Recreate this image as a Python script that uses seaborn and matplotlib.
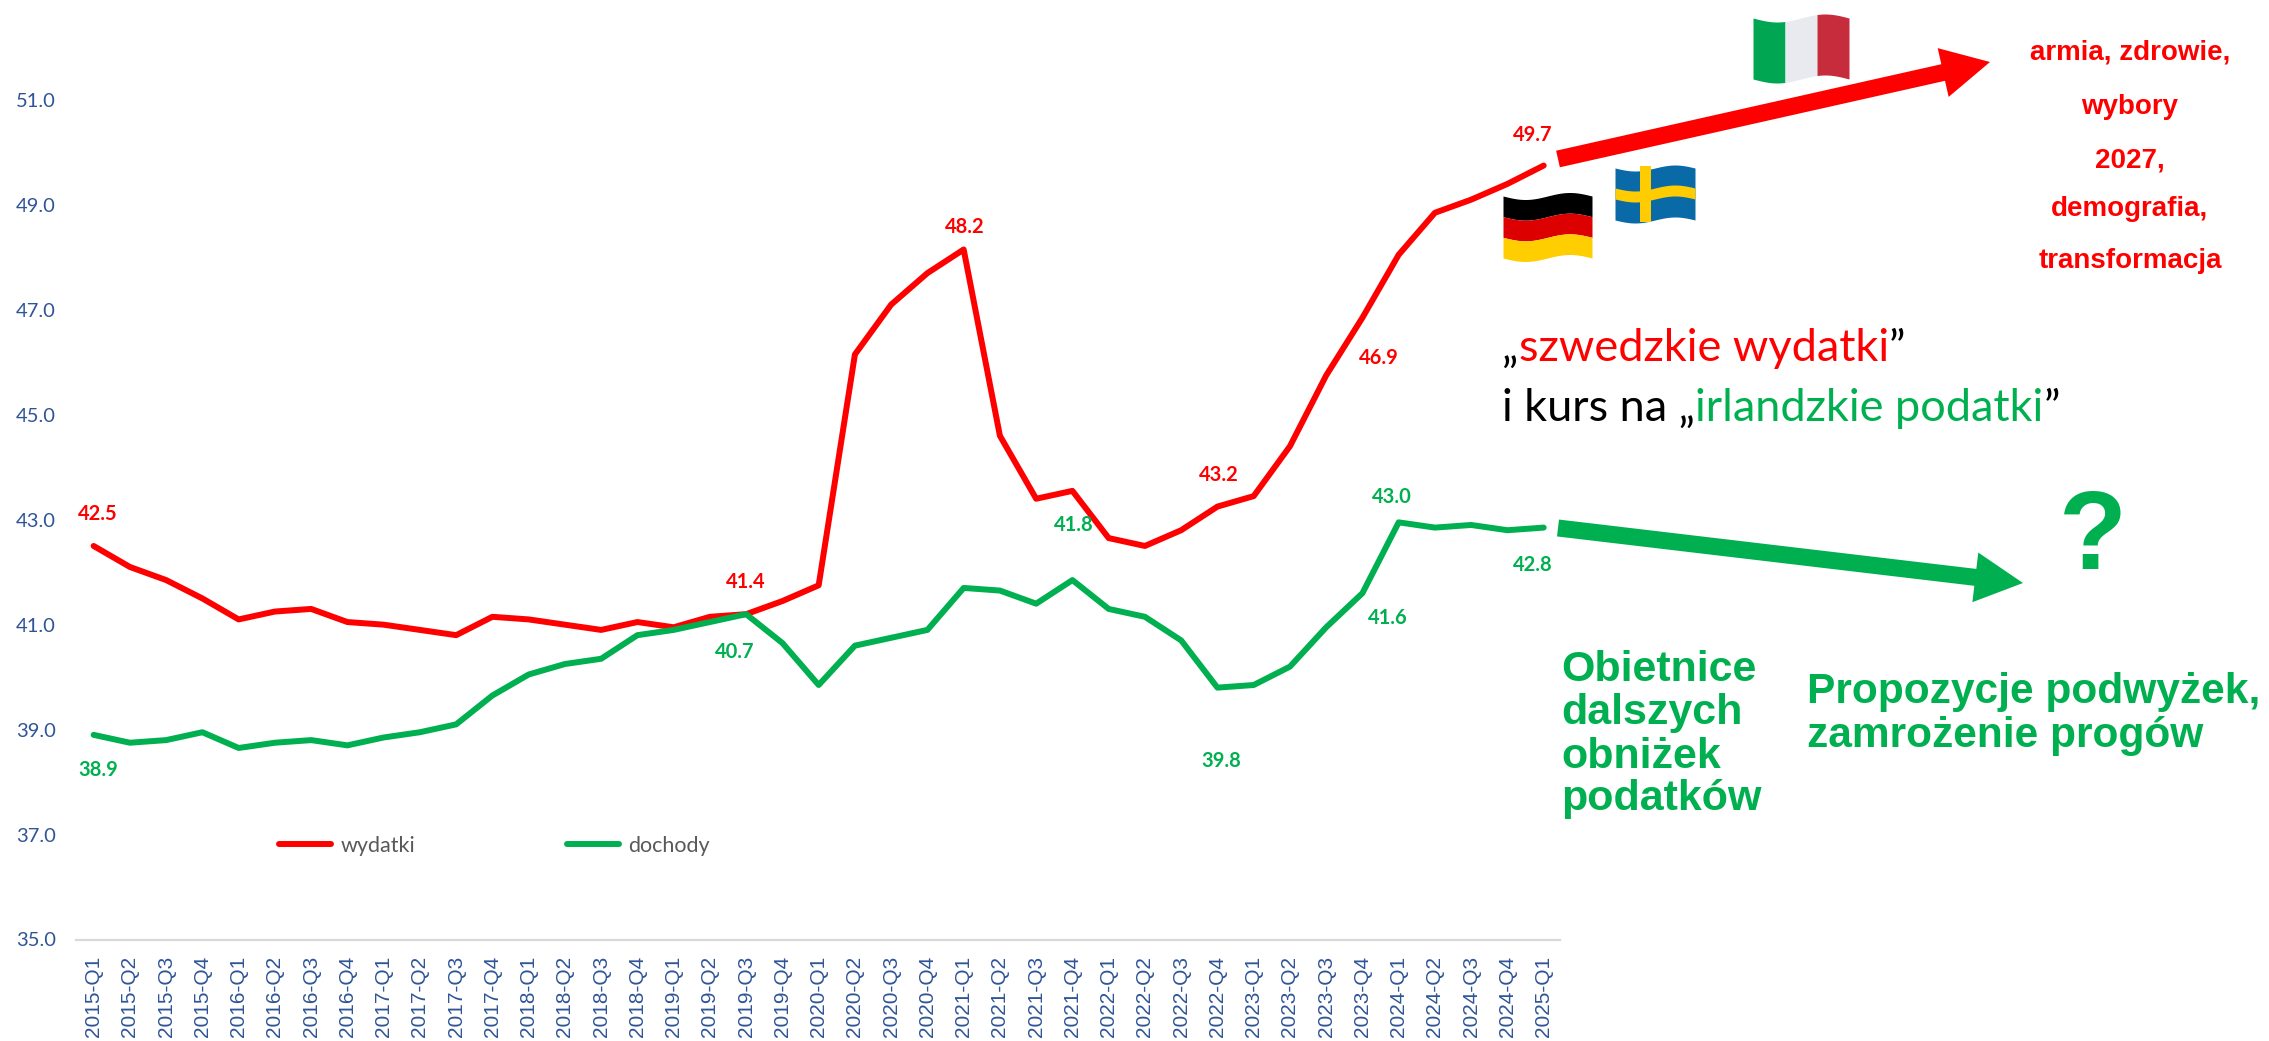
import numpy as np
import pandas as pd
import matplotlib
matplotlib.use("Agg")
import matplotlib.pyplot as plt
import seaborn as sns

# ---- data ----
QUARTERS = [f"{y}-Q{q}" for y in range(2015, 2025) for q in range(1, 5)] + ["2025-Q1"]

WYDATKI = [42.5, 42.1, 41.85, 41.5, 41.1, 41.25, 41.3, 41.05, 41.0, 40.9, 40.8, 41.15,
           41.1, 41.0, 40.9, 41.05, 40.95, 41.15, 41.2, 41.45, 41.75, 46.15, 47.1, 47.7,
           48.15, 44.6, 43.4, 43.55, 42.65, 42.5, 42.8, 43.25, 43.45, 44.4, 45.75, 46.85,
           48.05, 48.85, 49.1, 49.4, 49.75]
DOCHODY = [38.9, 38.75, 38.8, 38.95, 38.65, 38.75, 38.8, 38.7, 38.85, 38.95, 39.1, 39.65,
           40.05, 40.25, 40.35, 40.8, 40.9, 41.05, 41.2, 40.65, 39.85, 40.6, 40.75, 40.9,
           41.7, 41.65, 41.4, 41.85, 41.3, 41.15, 40.7, 39.8, 39.85, 40.2, 40.95, 41.6,
           42.95, 42.85, 42.9, 42.8, 42.85]

Y_TICKS = [35, 37, 39, 41, 43, 45, 47, 49, 51]

RED = "#FF0000"
GREEN = "#00B050"
BLUE = "#2F5597"

# quarter index, label, offset in points
RED_LABELS = [(0, "42.5", 3, 23), (18, "41.4", 0, 23), (24, "48.2", 1, 16),
              (31, "43.2", 1, 23), (35, "46.9", 12, -29), (40, "49.7", -8, 22)]
GREEN_LABELS = [(0, "38.9", 3, -25), (18, "40.7", -8, -27), (27, "41.8", 1, 40),
                (31, "39.8", 3, -53), (35, "41.6", 18, -18), (36, "43.0", -5, 18),
                (40, "42.8", -8, -27)]

df = pd.DataFrame({
    "kwartal": QUARTERS * 2,
    "wartosc": WYDATKI + DOCHODY,
    "seria": ["wydatki"] * len(QUARTERS) + ["dochody"] * len(QUARTERS),
})

# ---- figure ----
sns.set_theme(style="white")
plt.rcParams["font.family"] = ["Liberation Sans", "DejaVu Sans"]

W, H = 2269, 1041
fig = plt.figure(figsize=(W / 100, H / 100), dpi=100)
ax = fig.add_axes([75.5 / W, (H - 939.5) / H, (1560 - 75.5) / W, 934 / H])

sns.lineplot(data=df, x="kwartal", y="wartosc", hue="seria", sort=False, errorbar=None,
             palette={"wydatki": RED, "dochody": GREEN}, linewidth=4.3, ax=ax)

ax.set_xlim(-0.5, 40.45)
ax.set_ylim(35, 52.8)
ax.set_xlabel("")
ax.set_ylabel("")
ax.set_yticks(Y_TICKS)
ax.set_yticklabels([f"{v:.1f}" for v in Y_TICKS], family="Lato", fontsize=14.5, color=BLUE)
ax.set_xticks(range(len(QUARTERS)))
ax.set_xticklabels(QUARTERS, rotation=90, fontsize=15, color=BLUE)
ax.tick_params(axis="y", length=0, pad=14)
ax.tick_params(axis="x", length=0, pad=12)
sns.despine(ax=ax, left=True)
ax.spines["bottom"].set_color("#D9D9D9")
ax.spines["bottom"].set_linewidth(1.6)

for series, labels, col in [(WYDATKI, RED_LABELS, RED), (DOCHODY, GREEN_LABELS, GREEN)]:
    for idx, txt, dx, dy in labels:
        ax.annotate(txt, (idx, series[idx]), xytext=(dx, dy), textcoords="offset points",
                    ha="center", va="center", color=col, fontsize=14.5,
                    fontweight="bold", family="Lato")

sns.move_legend(ax, "center left", bbox_to_anchor=(279 / W, (H - 846) / H),
                bbox_transform=fig.transFigure, ncol=2, title=None, frameon=False,
                fontsize=15.5, handlelength=2.4, handletextpad=0.45, columnspacing=7.05,
                borderaxespad=0, borderpad=0)
for t in ax.get_legend().get_texts():
    t.set_color("#595959")
    t.set_family("Lato")

# ---- overlay in reference pixels ----
ov = fig.add_axes([0, 0, 1, 1])
ov.set_xlim(0, W)
ov.set_ylim(H, 0)
ov.axis("off")
ov.patch.set_alpha(0)


def arrow(x0, y0, x1, y1, col):
    ov.arrow(x0, y0, x1 - x0, y1 - y0, width=17, head_width=50, head_length=48,
             length_includes_head=True, color=col, linewidth=0)


arrow(1558, 159, 1990, 62, RED)
arrow(1558, 528, 2023, 583, GREEN)


def flag_v(x0, x1, y0, y1, amp, stripes):
    # horizontal stripes on a waving cloth
    x = np.linspace(x0, x1, 60)
    wave = amp * np.sin((x - x0) / (x1 - x0) * 2 * np.pi)
    h = (y1 - y0) / len(stripes)
    for i, c in enumerate(stripes):
        ov.fill_between(x, y0 + i * h + wave, y0 + (i + 1) * h + wave, color=c, linewidth=0)


def flag_it(x0, x1, y0, y1, amp, stripes):
    # vertical stripes
    edges = np.linspace(x0, x1, len(stripes) + 1)
    for i, c in enumerate(stripes):
        x = np.linspace(edges[i], edges[i + 1], 30)
        wave = amp * np.sin((x - x0) / (x1 - x0) * 2 * np.pi)
        ov.fill_between(x, y0 + wave, y1 + wave, color=c, linewidth=0)


flag_it(1753, 1849, 18, 79, 4, ["#00A651", "#E8EAF0", "#C62C3C"])
flag_v(1503, 1592, 196, 258, 3.5, ["#000000", "#DD0000", "#FFCE00"])
flag_v(1615, 1695, 168, 220, 3, ["#0A6AA8"])
# Swedish cross
x_s = np.linspace(1615, 1695, 60)
w_s = 3 * np.sin((x_s - 1615) / 80 * 2 * np.pi)
ov.fill_between(x_s, 188 + w_s, 199 + w_s, color="#FECC00", linewidth=0)
ov.fill_between(np.linspace(1640, 1651, 5), 166, 222, color="#FECC00", linewidth=0)

for y, txt in zip([53, 107, 160, 209, 261],
                  ["armia, zdrowie,", "wybory", "2027,", "demografia,", "transformacja"]):
    ov.text(2130, y, txt, color=RED, fontsize=20, fontweight="bold", ha="center", va="center")

for y, txt in zip([670, 713, 757, 799], ["Obietnice", "dalszych", "obniżek", "podatków"]):
    ov.text(1561, y, txt, color=GREEN, fontsize=31, fontweight="bold", ha="left", va="center")

for y, txt in zip([692, 736], ["Propozycje podwyżek,", "zamrożenie progów"]):
    ov.text(1807, y, txt, color=GREEN, fontsize=30.6, fontweight="bold", ha="left", va="center")

ov.text(2093, 540, "?", color=GREEN, fontsize=80, fontweight="bold", ha="center", va="center")


def parts_text(x, y, parts):
    # one line, several colours
    r = fig.canvas.get_renderer()
    for txt, col in parts:
        t = ov.text(x, y, txt, color=col, fontsize=32.5, family="Lato", ha="left", va="baseline")
        x = ov.transData.inverted().transform(t.get_window_extent(r))[1, 0]
        x += 3 if txt.endswith(" ") else 0


parts_text(1502, 361, [("„", "black"), ("szwedzkie wydatki", RED), ("”", "black")])
parts_text(1502, 421, [("i kurs na „", "black"), ("irlandzkie podatki", GREEN), ("”", "black")])

fig.savefig("out.png", dpi=100, facecolor="white")
